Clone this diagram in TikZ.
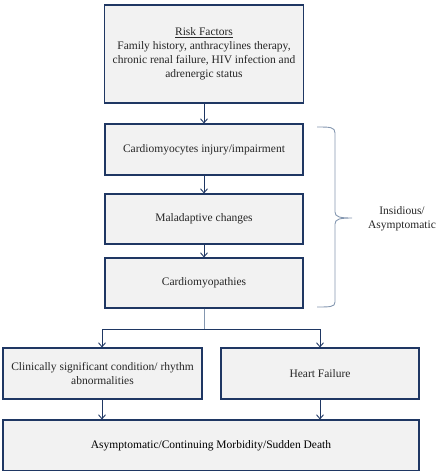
\documentclass[tikz,border=0pt]{standalone}
\usepackage{fontspec}
\setmainfont{Liberation Serif}
\usetikzlibrary{arrows.meta}
\definecolor{navy}{HTML}{1F3763}
\definecolor{boxfill}{HTML}{F2F2F2}
\definecolor{pale}{HTML}{8497B0}
\definecolor{txt}{HTML}{262626}
\begin{document}
\begin{tikzpicture}[x=1pt,y=-1pt,
  box/.style={draw=navy,line width=1.1pt,fill=boxfill,inner sep=2pt,align=center,
    font=\fontsize{11.5}{14}\selectfont,text=txt},
  arr/.style={draw=navy,line width=0.9pt,-{Straight Barb[length=4pt,width=7pt]}}]
\useasboundingbox (0,0) rectangle (444,471);
\node[box,minimum width=199pt,minimum height=98pt] (risk) at (204,54)
  {\underline{Risk Factors}\\Family history, anthracylines therapy,\\chronic renal failure, HIV infection and\\adrenergic status};
\node[box,minimum width=198pt,minimum height=51pt] (injury) at (204,149.5) {Cardiomyocytes injury/impairment};
\node[box,minimum width=198pt,minimum height=50pt] (mal) at (204,219) {Maladaptive changes};
\node[box,minimum width=198pt,minimum height=50pt] (cardio) at (204,283) {Cardiomyopathies};
\node[box,minimum width=199pt,minimum height=51pt] (clin) at (102.5,373.5) {Clinically significant condition/ rhythm\\abnormalities};
\node[box,minimum width=198pt,minimum height=51pt] (hf) at (320,373.5) {Heart Failure};
\node[box,minimum width=416pt,minimum height=51pt,text=black] (out) at (211,445.5) {Asymptomatic/Continuing Morbidity/Sudden Death};
\node[font=\fontsize{11.5}{14}\selectfont,text=txt,align=center] (ins) at (402,219) {Insidious/\\Asymptomatic};
\coordinate (j) at (204,329);
\coordinate (jl) at (102,329);
\coordinate (jr) at (320,329);
\draw[arr] (risk) -- (injury);
\draw[arr] (injury) -- (mal);
\draw[arr] (mal) -- (cardio);
\draw[pale,line width=0.9pt] (cardio) -- (j);
\draw[arr] (j) -- (jl) -- (clin.north -| jl);
\draw[arr] (j) -- (jr) -- (hf);
\draw[arr] (clin.south -| jl) -- (out.north -| jl);
\draw[arr] (hf) -- (out.north -| hf);
\draw[pale,line width=0.9pt] (317,127) .. controls (330,127) and (335,127) .. (335,133)
  -- (335,212) .. controls (335,217) and (340,218) .. (352,218)
  .. controls (340,218) and (335,219) .. (335,224)
  -- (335,302) .. controls (335,307) and (330,307) .. (317,307);
\end{tikzpicture}
\end{document}
